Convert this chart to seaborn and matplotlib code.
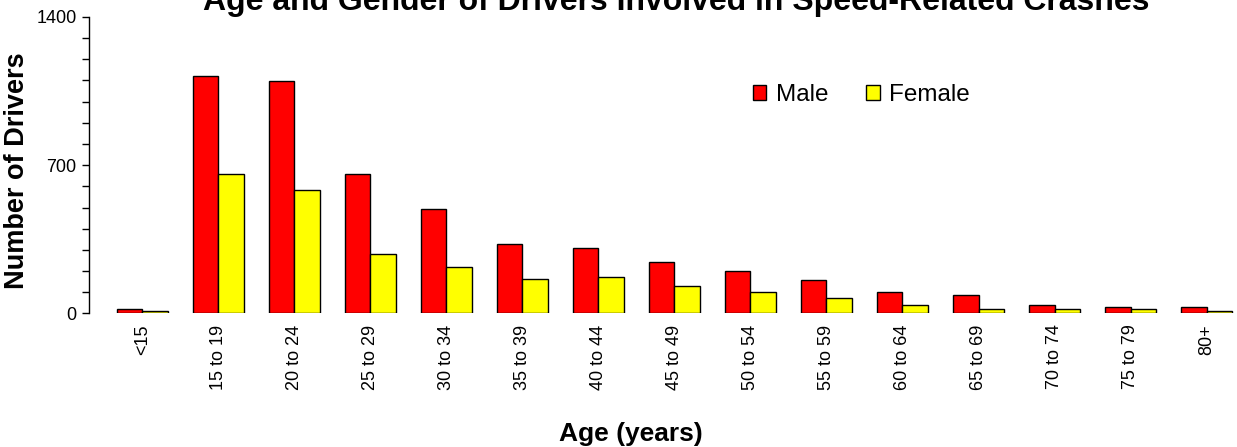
import numpy as np
import pandas as pd
import seaborn as sns
import matplotlib.pyplot as plt

age_groups = ['<15', '15 to 19', '20 to 24', '25 to 29', '30 to 34', '35 to 39',
              '40 to 44', '45 to 49', '50 to 54', '55 to 59', '60 to 64',
              '65 to 69', '70 to 74', '75 to 79', '80+']
male = [20, 1123, 1096, 657, 494, 326, 307, 244, 201, 156, 101, 85, 38, 28, 28]
female = [10, 656, 585, 280, 217, 163, 173, 129, 101, 74, 38, 19, 19, 19, 9]

df = pd.DataFrame({
    'Age': age_groups * 2,
    'Drivers': male + female,
    'Gender': ['Male'] * len(male) + ['Female'] * len(female),
})

sns.set_style('white')
plt.rcParams['font.family'] = ['Liberation Sans', 'DejaVu Sans']
plt.rcParams['text.color'] = 'black'
plt.rcParams['xtick.color'] = 'black'
plt.rcParams['ytick.color'] = 'black'
plt.rcParams['axes.labelcolor'] = 'black'

fig = plt.figure(figsize=(12.37, 4.47), dpi=100)
ax = fig.add_axes([89 / 1237, 0.299, 1 - 89 / 1237, 0.663])

sns.barplot(data=df, x='Age', y='Drivers', hue='Gender', order=age_groups,
            palette={'Male': '#ff0000', 'Female': '#ffff00'},
            width=0.675, gap=0, edgecolor='black', linewidth=1,
            saturation=1, ax=ax)

ax.set_ylim(0, 1400)
ax.set_xlim(-0.7, 14.4)
ax.set_yticks(np.arange(0, 1401, 100))
ax.set_yticklabels(['0' if v == 0 else str(v) if v in (700, 1400) else '' for v in range(0, 1401, 100)])
ax.tick_params(axis='y', direction='out', length=5, width=1, labelsize=13, pad=4, left=True)
ax.tick_params(axis='x', length=0, labelsize=13, labelrotation=90, pad=8)

for s in ['top', 'right', 'bottom']:
    ax.spines[s].set_visible(False)
ax.spines['left'].set_color('black')
ax.spines['left'].set_linewidth(1)

ax.set_xlabel('Age (years)', fontsize=19, fontweight='bold')
ax.xaxis.set_label_coords(0.5 + (631 - 89 - 574) / 1148, -0.367)
ax.set_ylabel('Number of Drivers', fontsize=19.5, fontweight='bold')
ax.yaxis.set_label_coords(-0.0514, 0.483)

fig.text(676 / 1237, 1 - 10 / 447, 'Age and Gender of Drivers Involved in Speed-Related Crashes',
         ha='center', va='baseline', fontsize=23, fontweight='bold')

ax.legend(loc='center', bbox_to_anchor=(0.673, 0.736), ncol=2, frameon=False,
          fontsize=17.5, handlelength=0.55, handleheight=0.55, handletextpad=0.4,
          columnspacing=1.55, borderaxespad=0)

fig.savefig('out.png', dpi=100)
